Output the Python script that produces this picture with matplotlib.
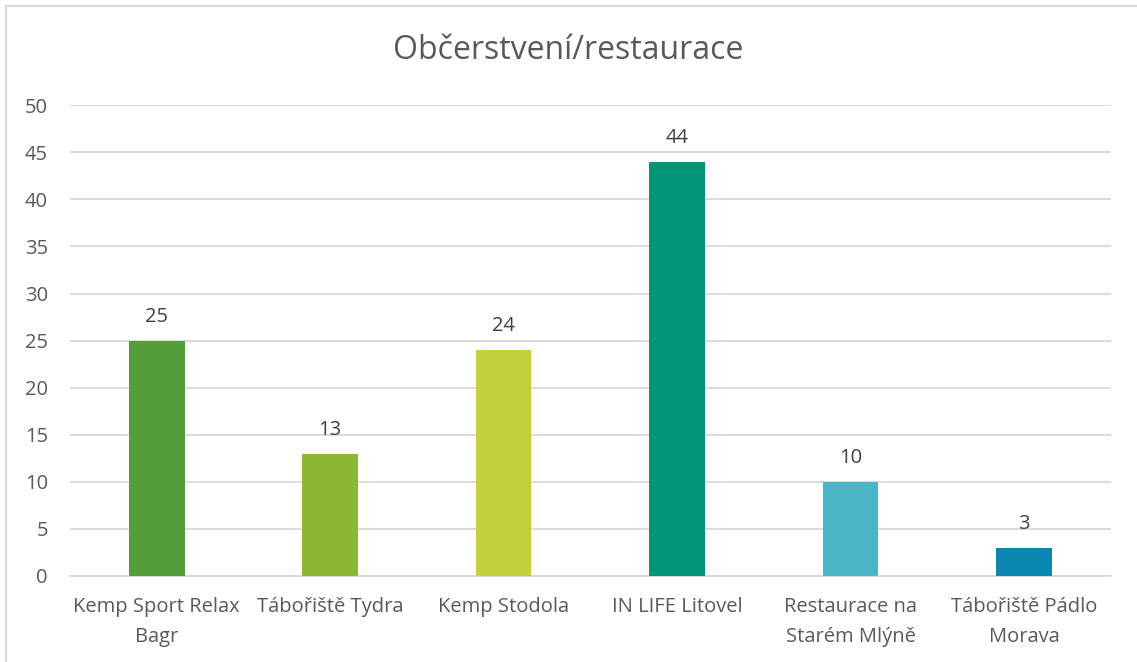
import matplotlib.pyplot as plt
from matplotlib.patches import Rectangle

categories = ["Kemp Sport Relax\nBagr", "Tábořiště Tydra", "Kemp Stodola",
              "IN LIFE Litovel", "Restaurace na\nStarém Mlýně", "Tábořiště Pádlo\nMorava"]
values = [25, 13, 24, 44, 10, 3]
colors = ["#549E39", "#8AB833", "#C2D13C", "#029676", "#4AB5C4", "#0B87B0"]
yticks = [0, 5, 10, 15, 20, 25, 30, 35, 40, 45, 50]

plt.rcParams['font.family'] = ['Open Sans', 'DejaVu Sans']
text_color = "#595959"

fig = plt.figure(figsize=(11.37, 6.62), dpi=100)
fig.patches.append(Rectangle((0.005, -0.01), 1.0, 1.001, transform=fig.transFigure,
                             fill=False, edgecolor="#D9D9D9", linewidth=1.5))
ax = fig.add_axes([0.0616, 0.130, 0.9154, 0.711])

x = range(len(categories))
bars = ax.bar(x, values, width=0.32, color=colors, zorder=3)
for xi, v in zip(x, values):
    ax.annotate(str(v), (xi, v), xytext=(0, 10), textcoords="offset points",
                ha="center", va="bottom", fontsize=14.5, color="#404040")

ax.set_xlim(-0.5, len(categories) - 0.5)
ax.set_ylim(0, 50)
ax.set_yticks(yticks)
ax.set_xticks(list(x))
ax.set_xticklabels(categories, fontsize=14.5, color=text_color, linespacing=1.65)
ax.tick_params(axis="y", labelsize=14.5, labelcolor=text_color, length=0, pad=16)
ax.tick_params(axis="x", length=0, pad=15)
ax.grid(axis="y", color="#D9D9D9", linewidth=1.3, zorder=0)
for s in ["top", "right", "left"]:
    ax.spines[s].set_visible(False)
ax.spines["bottom"].set_color("#D9D9D9")
ax.spines["bottom"].set_linewidth(1.3)

fig.text(0.5, 0.924, "Občerstvení/restaurace", ha="center", va="center",
         fontsize=23, color=text_color)

fig.savefig("out.png", dpi=100)
